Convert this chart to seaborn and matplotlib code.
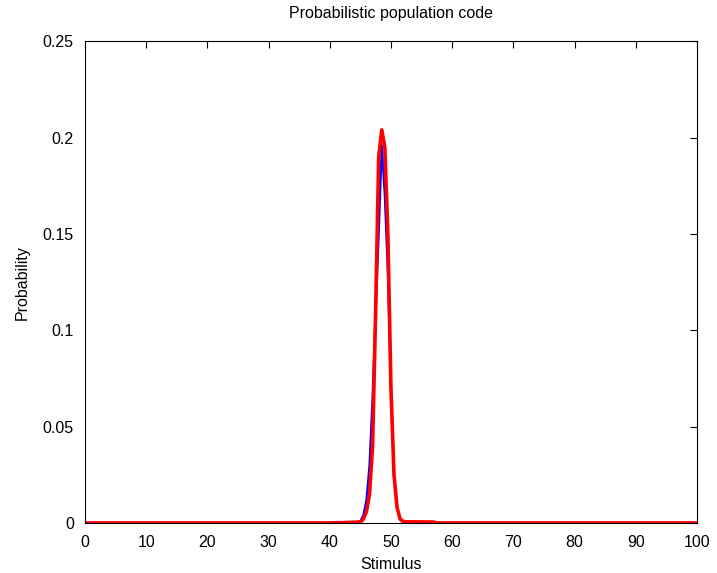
import matplotlib
matplotlib.use("Agg")
import matplotlib.pyplot as plt
import seaborn as sns
import pandas as pd

sns.set_style("white")
plt.rcParams['font.family'] = ['Liberation Sans', 'DejaVu Sans']
plt.rcParams['text.color'] = 'black'
plt.rcParams['axes.labelcolor'] = 'black'

# Stimulus grid (breakpoints) and probabilities
stimulus_blue = [0, 40, 41, 44.5, 45, 45.5, 46, 46.5, 47, 47.5, 48, 48.5, 49, 49.5, 50, 50.5, 51, 51.5, 52, 53, 100]
prob_blue = [0, 0, 0.0005, 0.0005, 0.001, 0.004, 0.012, 0.03, 0.065, 0.11, 0.15, 0.196, 0.17, 0.13, 0.07, 0.025, 0.008, 0.002, 0.0005, 0, 0]

stimulus_red = [0, 41, 45, 45.5, 46, 46.5, 47, 47.5, 48, 48.5, 49, 49.5, 50, 50.5, 51, 51.5, 52, 52.5, 57, 57.5, 100]
prob_red = [0, 0, 0.0005, 0.002, 0.006, 0.015, 0.04, 0.11, 0.19, 0.204, 0.195, 0.15, 0.07, 0.025, 0.008, 0.002, 0.0008, 0.0006, 0.0005, 0, 0]

x_ticks = [0, 10, 20, 30, 40, 50, 60, 70, 80, 90, 100]
y_ticks = [0, 0.05, 0.1, 0.15, 0.2, 0.25]
y_tick_labels = ["0", "0.05", "0.1", "0.15", "0.2", "0.25"]

df_blue = pd.DataFrame({"Stimulus": stimulus_blue, "Probability": prob_blue})
df_red = pd.DataFrame({"Stimulus": stimulus_red, "Probability": prob_red})

fig = plt.figure(figsize=(7.17, 5.73), dpi=100)
ax = fig.add_axes([0.1185, 0.0873, 0.8535, 0.8407])

sns.lineplot(data=df_blue, x="Stimulus", y="Probability", color="#0000ff", linewidth=1.6,
             estimator=None, sort=False, ax=ax)
sns.lineplot(data=df_red, x="Stimulus", y="Probability", color="#ff0000", linewidth=2.6,
             estimator=None, sort=False, ax=ax)

ax.set_xlim(0, 100)
ax.set_ylim(0, 0.25)
ax.set_xticks(x_ticks)
ax.set_xticklabels([str(t) for t in x_ticks])
ax.set_yticks(y_ticks)
ax.set_yticklabels(y_tick_labels)
ax.tick_params(direction="in", length=5, width=0.8, top=True, right=True,
               labelsize=11.5, colors="black")
ax.tick_params(axis="x", pad=9)
ax.tick_params(axis="y", pad=8)
for s in ax.spines.values():
    s.set_visible(True)
    s.set_color("black")
    s.set_linewidth(0.8)
ax.set_xlabel("Stimulus", fontsize=11.5, labelpad=4.5, color="black")
ax.set_ylabel("Probability", fontsize=11.5, labelpad=9, color="black")
ax.set_title("Probabilistic population code", fontsize=11.5, pad=16.5, color="black")

fig.savefig("out.png", dpi=100, facecolor="white")
